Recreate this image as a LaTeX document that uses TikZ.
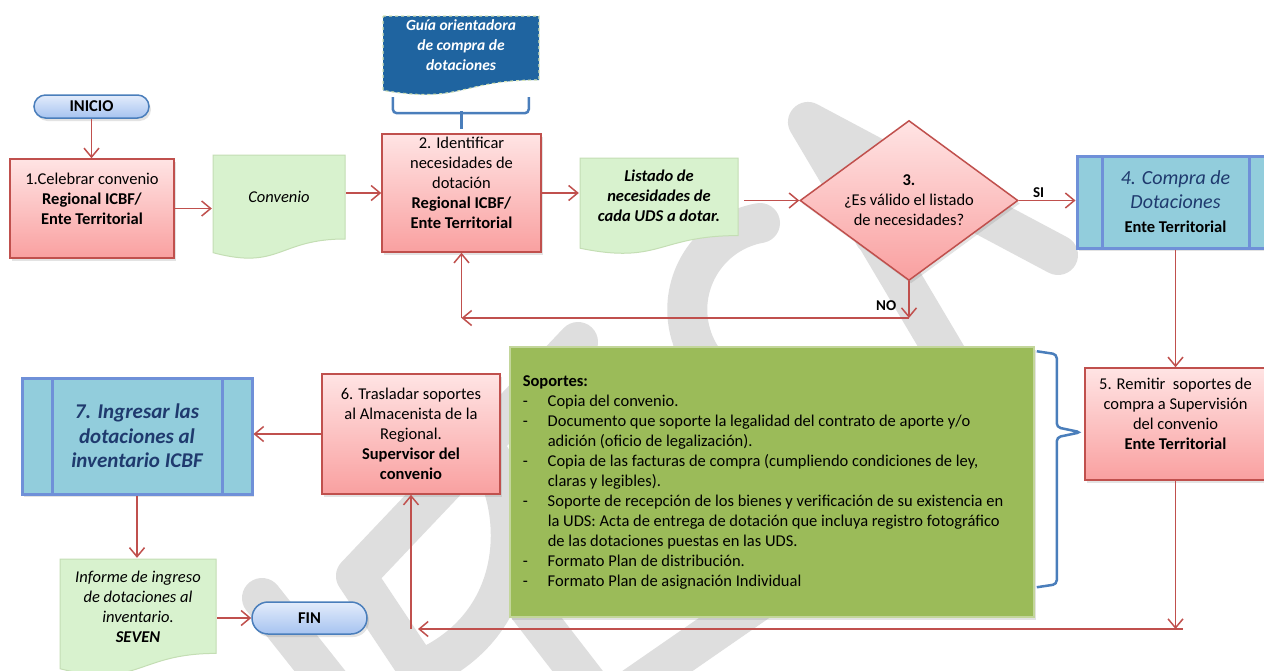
\documentclass[tikz,border=0pt]{standalone}
\usepackage{fontspec}
\setmainfont{Carlito}
\usepackage{tikz}
\usetikzlibrary{positioning,shapes.geometric,shapes.misc,arrows.meta,shadows}

\definecolor{rline}{HTML}{C0504D}
\definecolor{rtop}{HTML}{FFE4E4}
\definecolor{rbot}{HTML}{F9A0A0}
\definecolor{gdoc}{HTML}{D8F2CE}
\definecolor{gdocline}{HTML}{C4DEB4}
\definecolor{gsop}{HTML}{9BBB59}
\definecolor{gsopline}{HTML}{C3D69B}
\definecolor{bfill}{HTML}{92CDDC}
\definecolor{bline}{HTML}{6F90D8}
\definecolor{btext}{HTML}{1F3A6E}
\definecolor{ttop}{HTML}{E3ECFB}
\definecolor{tbot}{HTML}{A6C3F0}
\definecolor{tline}{HTML}{4A7EBB}
\definecolor{guiafill}{HTML}{1F64A0}
\definecolor{guialine}{HTML}{D3E2B6}
\definecolor{wmgray}{HTML}{DEDEDE}

\newcommand{\bt}[1]{\textcolor{btext}{\fontsize{20}{25}\selectfont\itshape #1}}
\newcommand{\dash}{\makebox[25pt][l]{-}}
\newcommand{\lift}{\\\mbox{}}

\tikzset{
  every node/.style={font=\fontsize{16.5}{20}\selectfont},
  arr/.style={draw=rline, line width=1.5pt, -{Straight Barb[length=9pt,width=15pt]}},
  shad/.style={drop shadow={opacity=0.22, shadow xshift=2pt, shadow yshift=-3pt}},
  redbox/.style 2 args={rectangle, draw=rline, line width=1.5pt, top color=rtop, bottom color=rbot,
    minimum width=#1, minimum height=#2, align=center, inner sep=2pt, shad},
  term/.style 2 args={rounded rectangle, draw=tline, line width=1.5pt, top color=ttop, bottom color=tbot,
    minimum width=#1, minimum height=#2, inner sep=0pt, font=\fontsize{16.5}{20}\selectfont\bfseries, shad},
  dia/.style={diamond, aspect=1.36, draw=rline, line width=1.5pt, top color=rtop, bottom color=rbot,
    minimum width=218pt, minimum height=160pt, inner sep=0pt, align=center, shad},
  proc/.style n args={3}{rectangle, draw=bline, line width=3pt, fill=bfill, minimum width=#1, minimum height=#2,
    align=center, inner sep=0pt, shad,
    path picture={\draw[bline, line width=3pt]
      ([xshift=#3 pt]path picture bounding box.north west) -- ([xshift=#3 pt]path picture bounding box.south west)
      ([xshift=-#3 pt]path picture bounding box.north east) -- ([xshift=-#3 pt]path picture bounding box.south east);}},
  docu/.style n args={3}{rectangle, minimum width=#1, minimum height=#2, inner sep=0pt, align=center,
    path picture={\filldraw[#3] ([xshift=1pt,yshift=-1pt]path picture bounding box.north west)
      -- ++(#1-2,0) -- ++(0,0.8*#2) .. controls +(-0.5*#1,0) and +(0.5*#1,0.17*#2) .. ++(-#1+2,0.13*#2) -- cycle;}},
  sop/.style={rectangle, draw=gsopline, line width=1.5pt, fill=gsop, minimum width=524pt, minimum height=270pt,
    align=left, inner sep=0pt, shad},
  lab/.style={font=\fontsize{15}{18}\selectfont\bfseries, inner sep=2pt},
  brace/.style={draw=tline, line width=2.5pt, rounded corners=4pt},
  wmark/.style={draw=wmgray, line width=40pt, line cap=round, line join=round}
}

\begin{document}
\begin{tikzpicture}[x=1pt, y=-1pt]
\fill[white] (0,0) rectangle (1264,670);
\useasboundingbox (0,0) rectangle (1264,670);

% marca de agua
\draw[wmark] (1058,255) -- (808,122) -- (955,370);
\draw[wmark] (874,235) -- (975,209);
\draw[wmark] (760,223) arc[start angle=260, end angle=120, radius=88];
\draw[wmark] (578,342) -- (356,576) -- (432,690);
\draw[wmark] (482,445) .. controls (525,500) and (530,620) .. (425,668);
\draw[wmark] (262,598) -- (335,690);
\draw[wmark] (515,590) -- (600,700);
\draw[wmark] (630,690) -- (760,600);

% nodos
\node[term={115pt}{23pt}] (ini) at (91.5,106.5) {INICIO};
\node[redbox={164pt}{99pt}] (s1) at (92,208.5) {1.Celebrar convenio\\\textbf{Regional ICBF/}\\\textbf{Ente Territorial}\lift};
\node[docu={134}{105}{fill=gdoc, draw=gdocline, line width=1pt}] (conv) at (279,206.5) {\textit{Convenio}\lift};
\node[docu={158}{80}{fill=guiafill, draw=guialine, dashed, line width=1.2pt}, text=white,
  font=\fontsize{15.5}{20}\selectfont\bfseries\itshape] (guia) at (461,55) {Guía orientadora\\de compra de\\dotaciones\lift};
\node[redbox={159pt}{118pt}] (s2) at (461.5,193) {2. Identificar\\necesidades de\\dotación\\\textbf{Regional ICBF/}\\\textbf{Ente Territorial}\lift};
\node[docu={160}{97}{fill=gdoc, draw=gdocline, line width=1pt}, font=\fontsize{16.5}{20}\selectfont\bfseries\itshape] (lis) at (659,205.5) {Listado de\\necesidades de\\cada UDS a dotar.\lift};
\node[dia] (d3) at (909,200.5) {\textbf{3.}\\¿Es válido el listado\\de necesidades?};
\node[proc={197pt}{92pt}{25}, font=\fontsize{16.5}{24}\selectfont] (s4) at (1175.5,202) {\bt{4. Compra de}\\\bt{Dotaciones}\\\textbf{Ente Territorial}};
\node[redbox={181pt}{112pt}] (s5) at (1175.5,424) {5. Remitir~ soportes de\\compra a Supervisión\\del convenio\\\textbf{Ente Territorial}\lift};
\node[sop] (sop) at (772,482) {\textbf{Soportes:}\\
  \dash Copia del convenio.\\
  \dash Documento que soporte la legalidad del contrato de aporte y/o\\
  \hspace*{25pt}adición (oficio de legalización).\\
  \dash Copia de las facturas de compra (cumpliendo condiciones de ley,\\
  \hspace*{25pt}claras y legibles).\\
  \dash Soporte de recepción de los bienes y verificación de su existencia en\hspace*{18pt}\mbox{}\\
  \hspace*{25pt}la UDS: Acta de entrega de dotación que incluya registro fotográfico\\
  \hspace*{25pt}de las dotaciones puestas en las UDS.\\
  \dash Formato Plan de distribución.\\
  \dash Formato Plan de asignación Individual};
\node[redbox={178pt}{120pt}] (s6) at (411,434) {6. Trasladar soportes\\al Almacenista de la\\Regional.\\\textbf{Supervisor del}\\\textbf{convenio}};
\node[proc={230pt}{116pt}{30}, text=btext, font=\fontsize{21}{24.5}\selectfont\bfseries\itshape] (s7) at (137,436) {7. Ingresar las\\dotaciones al\\inventario ICBF};
\node[docu={158}{118}{fill=gdoc, draw=gdocline, line width=1pt}, font=\fontsize{16.5}{20}\selectfont\itshape] (inf) at (138,617) {Informe de ingreso\\de dotaciones al\\inventario.\\\textbf{SEVEN}\lift};
\node[term={115pt}{32pt}] (fin) at (309.5,618) {FIN};

\coordinate (noA) at (909,318);
\coordinate (noB) at (s2.south |- noA);
\coordinate (finA) at (1175.5,629);
\coordinate (finB) at (s6.south |- finA);

% conectores
\draw[arr] (ini.south) -- (ini.south |- s1.north);
\draw[arr] (s1.east) -- (s1.east -| conv.west);
\draw[arr] (s2.west -| conv.east) -- (s2.west);
\draw[arr] (s2.east) -- (s2.east -| lis.west);
\draw[arr, shorten <=5pt] (d3.west -| lis.east) -- (d3.west);
\draw[arr] (d3.east) -- node[lab, above, pos=0.35] {SI} (d3.east -| s4.west);
\draw[arr] (d3.south) -- node[lab, left, pos=0.65, xshift=-10pt] {NO} (noA);
\draw[arr] (noA) -- (noB);
\draw[arr] (noB) -- (s2.south);
\draw[arr] (s4.south) -- (s5.north);
\draw[arr] (s5.south) -- (finA);
\draw[arr] ([xshift=7pt]finA) -- ([xshift=7pt]finB);
\draw[arr] (finB) -- (s6.south);
\draw[arr] (s6.west) -- (s6.west -| s7.east);
\draw[arr] (s7.south) -- (s7.south |- inf.north);
\draw[arr] (inf.east |- fin.west) -- (fin.west);

% llaves
\draw[brace] ([xshift=11pt,yshift=-2pt]guia.south west) -- ++(0,16) -- ++(136,0) -- ++(0,-16);
\draw[brace] ([yshift=22pt]s2.north) -- ([yshift=4pt]s2.north);
\draw[brace] ([xshift=2pt,yshift=-5pt]sop.north east) -- ++(20,3) -- ++(0,73) -- ++(24,5) -- ++(-24,5) -- ++(0,147) -- ++(-20,3);
\end{tikzpicture}
\end{document}
